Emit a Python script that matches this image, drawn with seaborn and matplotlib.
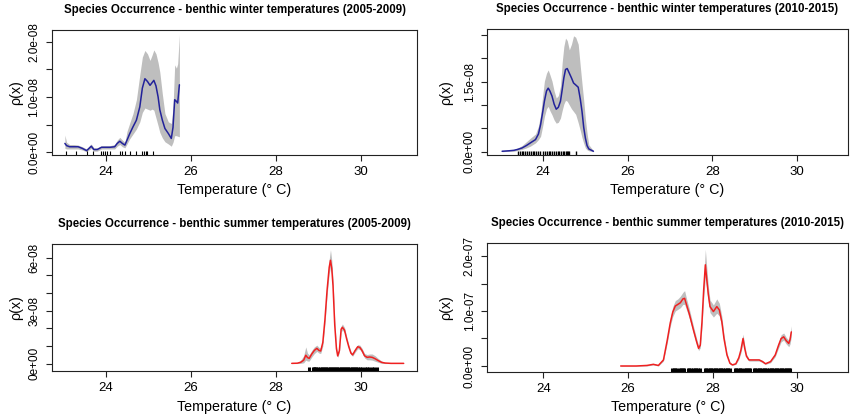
import numpy as np
import pandas as pd
import matplotlib
matplotlib.use("Agg")
import matplotlib.pyplot as plt
import seaborn as sns

# ---- winter 2005-2009 (units of 1e-08) ----
w1_temp = [23.04, 23.08, 23.15, 23.25, 23.35, 23.45, 23.55, 23.62, 23.66, 23.72, 23.80, 23.90,
           23.98, 24.10, 24.21, 24.27, 24.33, 24.39, 24.45, 24.50, 24.56, 24.64, 24.72, 24.80,
           24.86, 24.92, 24.98, 25.04, 25.09, 25.13, 25.18, 25.23, 25.27, 25.33, 25.39, 25.47,
           25.54, 25.58, 25.62, 25.66, 25.69, 25.73]
w1_dens = [0.16, 0.12, 0.10, 0.10, 0.10, 0.07, 0.03, 0.08, 0.11, 0.05, 0.05, 0.09,
           0.09, 0.09, 0.10, 0.16, 0.20, 0.16, 0.13, 0.22, 0.33, 0.46, 0.58, 0.82,
           1.16, 1.33, 1.28, 1.21, 1.26, 1.30, 1.20, 1.00, 0.77, 0.58, 0.43, 0.34,
           0.25, 0.45, 0.95, 0.92, 0.89, 1.22]
w1_low = [0.07, 0.06, 0.06, 0.06, 0.06, 0.04, 0.01, 0.05, 0.07, 0.02, 0.02, 0.06,
          0.06, 0.06, 0.06, 0.11, 0.14, 0.10, 0.08, 0.15, 0.24, 0.33, 0.42, 0.55,
          0.72, 0.80, 0.78, 0.76, 0.78, 0.76, 0.62, 0.48, 0.36, 0.26, 0.19, 0.15,
          0.11, 0.18, 0.30, 0.30, 0.29, 0.28]
w1_high = [0.31, 0.18, 0.14, 0.14, 0.13, 0.10, 0.06, 0.12, 0.15, 0.08, 0.08, 0.12,
           0.12, 0.12, 0.14, 0.22, 0.27, 0.22, 0.18, 0.38, 0.52, 0.70, 0.95, 1.40,
           1.72, 1.84, 1.78, 1.66, 1.76, 1.85, 1.78, 1.62, 1.45, 1.05, 0.70, 0.55,
           0.52, 0.80, 1.58, 1.52, 1.60, 2.13]
w1_occ = [23.07, 23.31, 23.57, 23.70, 23.90, 23.94, 23.98, 24.02, 24.09, 24.33, 24.39,
          24.45, 24.56, 24.72, 24.86, 24.89, 24.94, 24.98, 25.11]

# ---- winter 2010-2015 (units of 1e-08) ----
w2_temp = [23.03, 23.20, 23.31, 23.40, 23.50, 23.60, 23.70, 23.82, 23.89, 23.94, 23.99, 24.03,
           24.08, 24.12, 24.16, 24.21, 24.26, 24.31, 24.36, 24.41, 24.45, 24.49, 24.53, 24.57,
           24.62, 24.67, 24.72, 24.77, 24.83, 24.88, 24.92, 24.96, 25.00, 25.04, 25.08, 25.19]
w2_dens = [0.01, 0.02, 0.03, 0.05, 0.08, 0.13, 0.19, 0.26, 0.38, 0.58, 0.85, 1.08,
           1.30, 1.36, 1.30, 1.19, 1.02, 0.91, 0.95, 1.08, 1.32, 1.58, 1.76, 1.78,
           1.68, 1.58, 1.47, 1.43, 1.38, 1.12, 0.86, 0.52, 0.29, 0.13, 0.06, 0.01]
w2_low = [0.00, 0.01, 0.01, 0.03, 0.05, 0.08, 0.12, 0.19, 0.26, 0.33, 0.55, 0.75,
          0.92, 0.97, 0.88, 0.79, 0.68, 0.61, 0.63, 0.72, 0.88, 1.02, 1.10, 1.08,
          1.00, 0.92, 0.86, 0.80, 0.62, 0.45, 0.30, 0.18, 0.08, 0.04, 0.02, 0.00]
w2_high = [0.02, 0.04, 0.05, 0.08, 0.13, 0.21, 0.29, 0.38, 0.55, 0.79, 1.20, 1.51,
           1.68, 1.75, 1.65, 1.51, 1.30, 1.15, 1.20, 1.40, 1.90, 2.25, 2.43, 2.38,
           2.18, 2.30, 2.48, 2.45, 2.30, 1.82, 1.45, 1.10, 0.70, 0.39, 0.15, 0.02]
w2_occ = [23.40, 23.45, 23.49, 23.53, 23.58, 23.62, 23.66, 23.71, 23.75, 23.79, 23.84,
          23.88, 23.93, 24.00, 24.04, 24.09, 24.13, 24.17, 24.21, 24.26, 24.30, 24.34,
          24.38, 24.42, 24.46, 24.50, 24.53, 24.56, 24.59, 24.62, 24.78]

# ---- summer 2005-2009 (units of 1e-08) ----
s1_temp = [28.37, 28.50, 28.58, 28.65, 28.70, 28.74, 28.78, 28.84, 28.90, 28.96, 29.01, 29.05,
           29.10, 29.15, 29.20, 29.25, 29.28, 29.31, 29.34, 29.38, 29.42, 29.45, 29.49, 29.53,
           29.56, 29.61, 29.66, 29.71, 29.76, 29.80, 29.86, 29.92, 29.97, 30.02, 30.08, 30.14,
           30.20, 30.26, 30.33, 30.40, 30.48, 30.56, 30.70, 31.00]
s1_dens = [0.02, 0.03, 0.08, 0.20, 0.48, 0.35, 0.30, 0.55, 0.75, 0.87, 0.75, 0.72,
           1.20, 2.50, 4.15, 5.45, 5.85, 5.40, 4.40, 2.20, 0.85, 0.44, 0.75, 1.95,
           2.06, 1.90, 1.40, 0.96, 0.60, 0.50, 0.75, 0.96, 0.92, 0.75, 0.45, 0.36,
           0.38, 0.36, 0.28, 0.18, 0.08, 0.04, 0.02, 0.02]
s1_low = [0.01, 0.01, 0.02, 0.05, 0.20, 0.15, 0.15, 0.38, 0.57, 0.70, 0.60, 0.58,
          1.00, 2.25, 3.85, 5.10, 5.45, 5.00, 4.10, 2.00, 0.72, 0.35, 0.65, 1.78,
          1.90, 1.75, 1.28, 0.85, 0.52, 0.42, 0.65, 0.85, 0.80, 0.62, 0.33, 0.22,
          0.22, 0.20, 0.14, 0.08, 0.02, 0.01, 0.01, 0.01]
s1_high = [0.03, 0.06, 0.20, 0.45, 0.95, 0.60, 0.50, 0.75, 0.95, 1.05, 0.92, 0.88,
           1.40, 2.75, 4.45, 5.90, 6.45, 5.85, 4.75, 2.45, 1.00, 0.55, 0.90, 2.12,
           2.25, 2.05, 1.55, 1.08, 0.70, 0.60, 0.88, 1.08, 1.05, 0.88, 0.58, 0.52,
           0.55, 0.55, 0.45, 0.30, 0.15, 0.07, 0.03, 0.03]
s1_occ = [28.77, 28.86, 28.89, 28.92, 28.95, 28.99, 29.03, 29.07, 29.11, 29.14, 29.18,
          29.22, 29.26, 29.29, 29.33, 29.37, 29.41, 29.44, 29.48, 29.52, 29.55, 29.59,
          29.63, 29.67, 29.70, 29.74, 29.78, 29.81, 29.85, 29.89, 29.93, 29.97, 30.03,
          30.10, 30.14, 30.19, 30.25, 30.31, 30.38]

# ---- summer 2010-2015 (units of 1e-07) ----
s2_temp = [25.83, 26.20, 26.45, 26.60, 26.72, 26.84, 26.93, 27.00, 27.06, 27.12, 27.18, 27.24,
           27.30, 27.34, 27.39, 27.45, 27.55, 27.62, 27.67, 27.71, 27.75, 27.79, 27.83, 27.86,
           27.90, 27.94, 28.02, 28.10, 28.16, 28.22, 28.27, 28.34, 28.41, 28.47, 28.55, 28.62,
           28.67, 28.72, 28.76, 28.80, 28.86, 28.97, 29.10, 29.18, 29.25, 29.37, 29.48, 29.56,
           29.62, 29.68, 29.74, 29.80, 29.83, 29.86]
s2_dens = [0.00, 0.00, 0.01, 0.03, 0.01, 0.11, 0.47, 0.78, 0.98, 1.09, 1.12, 1.15,
           1.22, 1.23, 1.10, 0.95, 0.65, 0.45, 0.32, 0.38, 0.80, 1.38, 1.84, 1.60,
           1.30, 1.08, 0.99, 1.08, 1.02, 0.80, 0.50, 0.20, 0.05, 0.02, 0.04, 0.15,
           0.29, 0.50, 0.32, 0.18, 0.11, 0.11, 0.11, 0.08, 0.04, 0.08, 0.20, 0.38,
           0.50, 0.53, 0.46, 0.41, 0.48, 0.62]
s2_low = [0.00, 0.00, 0.00, 0.02, 0.00, 0.09, 0.42, 0.72, 0.90, 1.00, 1.03, 1.06,
          1.12, 1.12, 1.01, 0.87, 0.59, 0.40, 0.28, 0.33, 0.70, 1.22, 1.62, 1.42,
          1.16, 0.97, 0.89, 0.96, 0.91, 0.71, 0.44, 0.17, 0.03, 0.01, 0.03, 0.12,
          0.24, 0.42, 0.26, 0.15, 0.09, 0.09, 0.09, 0.06, 0.03, 0.06, 0.17, 0.33,
          0.44, 0.47, 0.40, 0.35, 0.40, 0.53]
s2_high = [0.01, 0.01, 0.02, 0.05, 0.02, 0.14, 0.53, 0.86, 1.08, 1.19, 1.22, 1.27,
           1.34, 1.37, 1.21, 1.04, 0.72, 0.51, 0.37, 0.44, 0.92, 1.58, 2.12, 1.82,
           1.45, 1.20, 1.11, 1.22, 1.14, 0.90, 0.57, 0.24, 0.07, 0.03, 0.06, 0.18,
           0.35, 0.58, 0.38, 0.22, 0.13, 0.13, 0.13, 0.10, 0.06, 0.10, 0.24, 0.43,
           0.57, 0.60, 0.52, 0.47, 0.58, 0.73]
s2_occ = [27.04, 27.08, 27.12, 27.16, 27.22, 27.26, 27.30, 27.33,
          27.41, 27.45, 27.49, 27.53, 27.58, 27.62, 27.66, 27.70,
          27.81, 27.85, 27.89, 27.93, 27.97, 28.01, 28.05, 28.09, 28.13, 28.17, 28.21,
          28.25, 28.29, 28.33, 28.37, 28.41,
          28.52, 28.56, 28.60, 28.64, 28.68,
          28.74, 28.78, 28.82, 28.86, 28.89,
          28.97, 29.01, 29.05, 29.09, 29.13, 29.17, 29.21, 29.25, 29.29, 29.33, 29.37,
          29.41, 29.45, 29.49, 29.53, 29.57, 29.61, 29.65, 29.69, 29.73, 29.77, 29.81, 29.84]

x_ticks = [24, 26, 28, 30]

sns.set_style("ticks")
plt.rcParams['font.family'] = ['Liberation Sans', 'DejaVu Sans']
plt.rcParams['text.color'] = 'black'
plt.rcParams['axes.labelcolor'] = 'black'
plt.rcParams['xtick.color'] = 'black'
plt.rcParams['ytick.color'] = 'black'

fig = plt.figure(figsize=(8.56, 4.19), dpi=100)

panels = [
    dict(title="Species Occurrence - benthic winter temperatures (2005-2009)",
         temp=w1_temp, dens=w1_dens, low=w1_low, high=w1_high, occ=w1_occ, unit=1e-08,
         color="#22229a", rug_lw=0.8, pos=[0.0604, 0.6301, 0.4271, 0.2983],
         xlim=(22.73, 31.32), ylim=(-0.049, 2.21),
         yt=[0, 0.5, 1.0, 1.5, 2.0], yl=["0.0e+00", "", "1.0e-08", "", "2.0e-08"], ylab=-0.078),
    dict(title="Species Occurrence - benthic winter temperatures (2010-2015)",
         temp=w2_temp, dens=w2_dens, low=w2_low, high=w2_high, occ=w2_occ, unit=1e-08,
         color="#22229a", rug_lw=1.0, pos=[0.5693, 0.6301, 0.4208, 0.3000],
         xlim=(22.68, 31.20), ylim=(-0.07, 2.62),
         yt=[0, 0.5, 1.0, 1.5, 2.0, 2.5], yl=["0.0e+00", "", "", "1.5e-08", "", ""], ylab=-0.095),
    dict(title="Species Occurrence - benthic summer temperatures (2005-2009)",
         temp=s1_temp, dens=s1_dens, low=s1_low, high=s1_high, occ=s1_occ, unit=1e-08,
         color="#f02020", rug_lw=2.2, pos=[0.0604, 0.1138, 0.4271, 0.3038],
         xlim=(22.73, 31.32), ylim=(-0.43, 6.77),
         yt=[0, 1, 2, 3, 4, 5, 6], yl=["0e+00", "", "", "3e-08", "", "", "6e-08"], ylab=-0.078),
    dict(title="Species Occurrence - benthic summer temperatures (2010-2015)",
         temp=s2_temp, dens=s2_dens, low=s2_low, high=s2_high, occ=s2_occ, unit=1e-07,
         color="#f02020", rug_lw=2.2, pos=[0.5693, 0.1122, 0.4214, 0.3070],
         xlim=(22.68, 31.20), ylim=(-0.109, 2.23),
         yt=[0, 0.5, 1.0, 1.5, 2.0], yl=["0.0e+00", "", "1.0e-07", "", "2.0e-07"], ylab=-0.095),
]

for p in panels:
    ax = fig.add_axes(p["pos"])
    u = p["unit"]
    df = pd.DataFrame({"temp": p["temp"],
                       "dens": np.array(p["dens"]) * u,
                       "low": np.array(p["low"]) * u,
                       "high": np.array(p["high"]) * u})
    ax.fill_between(df["temp"], df["low"], df["high"], color="#bebebe", lw=0)
    sns.lineplot(data=df, x="temp", y="dens", ax=ax, color=p["color"], lw=1.1,
                 estimator=None, sort=False)
    sns.rugplot(x=p["occ"], ax=ax, height=0.03, color="black", linewidth=p["rug_lw"])

    ax.set_xlim(*p["xlim"])
    ax.set_ylim(p["ylim"][0] * u, p["ylim"][1] * u)
    ax.set_xticks(x_ticks)
    ax.set_xticklabels([str(t) for t in x_ticks], fontsize=9.5)
    ax.set_yticks([v * u for v in p["yt"]])
    ax.set_yticklabels(p["yl"], rotation=90, va="center", fontsize=8.5)
    ax.tick_params(axis="both", length=4.3, width=0.8, color="#222222")
    ax.tick_params(axis="x", pad=3.5)
    ax.tick_params(axis="y", pad=4)
    for s in ax.spines.values():
        s.set_visible(True)
        s.set_color("#222222")
        s.set_linewidth(0.8)
    ax.set_title(p["title"], fontsize=8.3, fontweight="bold", pad=12.5)
    ax.set_xlabel("Temperature (° C)", fontsize=10.3, labelpad=4)
    ax.set_ylabel("ρ(x)", fontsize=10.3)
    ax.yaxis.set_label_coords(p["ylab"], 0.5)

fig.savefig("out.png", dpi=100)
